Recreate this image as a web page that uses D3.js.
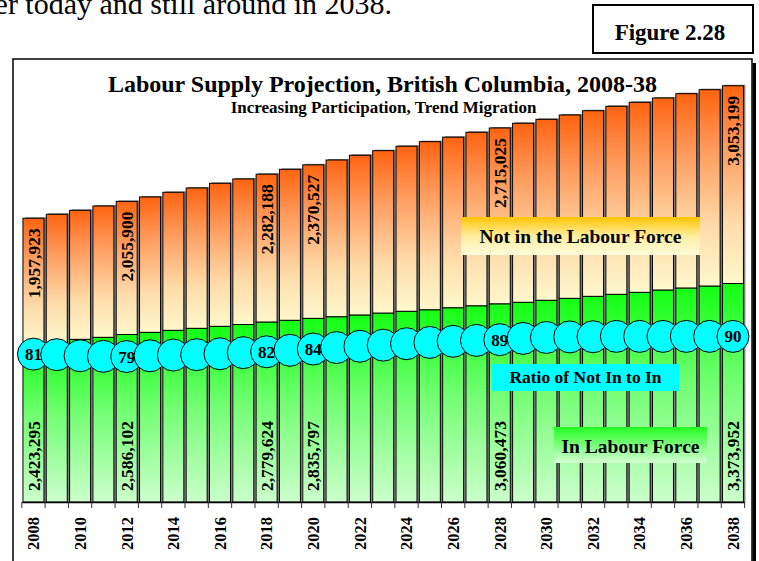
<!DOCTYPE html>
<html>
<head>
<meta charset="utf-8">
<script src="https://cdn.jsdelivr.net/npm/d3@7"></script>
<style>
  body { margin: 0; background: #fff; }
  svg { display: block; }
</style>
</head>
<body>
<script>
// years on the x axis
var years = [2008, 2009, 2010, 2011, 2012, 2013, 2014, 2015, 2016, 2017,
             2018, 2019, 2020, 2021, 2022, 2023, 2024, 2025, 2026, 2027,
             2028, 2029, 2030, 2031, 2032, 2033, 2034, 2035, 2036, 2037, 2038];

// persons in the labour force (green part)
var inLabourForce = [2423295, 2462000, 2512000, 2543000, 2586102, 2620000, 2651000, 2682000, 2713000, 2741000,
                     2779624, 2806000, 2835797, 2861000, 2888000, 2918000, 2945000, 2969000, 3000000, 3030000,
                     3060473, 3084000, 3115000, 3145000, 3176000, 3207000, 3238000, 3274000, 3305000, 3335000, 3373952];

// persons not in the labour force (orange part)
var notInLabourForce = [1957923, 1981000, 1992000, 2028000, 2055900, 2090000, 2131000, 2167000, 2208000, 2247000,
                        2282188, 2331000, 2370527, 2420000, 2466000, 2507000, 2548000, 2595000, 2633000, 2679000,
                        2715025, 2764000, 2794000, 2831000, 2866000, 2903000, 2934000, 2964000, 3000000, 3032000, 3053199];

// ratio of not in to in (x100), the cyan circles
var ratioNotInToIn = [80.80, 80.5, 79.9, 79.6, 79.48, 79.9, 80.3, 80.5, 81.0, 81.6,
                      82.10, 82.9, 83.59, 84.4, 85.1, 85.7, 86.5, 87.2, 87.8, 88.3,
                      88.71, 89.4, 89.9, 90.2, 90.3, 90.5, 90.5, 90.5, 90.5, 90.5, 90.49];

// years that carry data labels
var labelledYears = [2008, 2012, 2018, 2020, 2028, 2038];

// tick labels shown under the axis
var tickYears = [2008, 2010, 2012, 2014, 2016, 2018, 2020, 2022, 2024, 2026,
                 2028, 2030, 2032, 2034, 2036, 2038];

var rows = years.map(function(yr, i) {
  return {year: yr, inLF: inLabourForce[i], notIn: notInLabourForce[i],
          total: inLabourForce[i] + notInLabourForce[i], ratio: ratioNotInToIn[i]};
});

var width = 759, height = 561;
var svg = d3.select("body").append("svg")
    .attr("width", width)
    .attr("height", height)
    .style("font-family", "'Liberation Serif', 'Times New Roman', serif");

var defs = svg.append("defs");
function grad(id, stops) {
  var g = defs.append("linearGradient").attr("id", id)
      .attr("x1", 0).attr("y1", 0).attr("x2", 0).attr("y2", 1);
  stops.forEach(function(s) {
    g.append("stop").attr("offset", s[0]).attr("stop-color", s[1]);
  });
}
grad("orangeGrad", [[0, "#ff6410"], [0.3, "#ff9a5c"], [0.7, "#ffdcaa"], [1, "#fff8cc"]]);
grad("greenGrad", [[0, "#14ff14"], [0.45, "#72ff72"], [1, "#ccffcc"]]);
grad("goldGrad", [[0, "#ffc400"], [0.5, "#ffeea0"], [1, "#fffbdc"]]);
grad("greenLegendGrad", [[0, "#22ff22"], [1, "#d4ffd4"]]);

// text above the figure
svg.append("text")
    .attr("x", 392).attr("y", 13.5)
    .attr("text-anchor", "end")
    .style("font-size", "30px")
    .text("er today and still around in 2038.");

// figure number box
svg.append("rect")
    .attr("x", 593).attr("y", 5).attr("width", 160).attr("height", 48)
    .attr("fill", "#fff").attr("stroke", "#000").attr("stroke-width", 2);
svg.append("text")
    .attr("x", 670).attr("y", 40)
    .attr("text-anchor", "middle")
    .style("font-size", "23px").style("font-weight", "bold")
    .text("Figure 2.28");

// chart frame with shadow
svg.append("rect")
    .attr("x", 752.5).attr("y", 63).attr("width", 3.5).attr("height", 520)
    .attr("fill", "#000");
svg.append("rect")
    .attr("x", 13).attr("y", 59).attr("width", 739).attr("height", 520)
    .attr("fill", "#fff").attr("stroke", "#000").attr("stroke-width", 1.5);

svg.append("text")
    .attr("x", 382.5).attr("y", 91.5)
    .attr("text-anchor", "middle")
    .style("font-size", "24px").style("font-weight", "bold")
    .text("Labour Supply Projection, British Columbia, 2008-38");
svg.append("text")
    .attr("x", 383.5).attr("y", 113)
    .attr("text-anchor", "middle")
    .style("font-size", "17px").style("font-weight", "bold")
    .text("Increasing Participation, Trend Migration");

var x = d3.scaleBand()
    .domain(years)
    .range([21.8, 744.6])
    .paddingInner(0.1)
    .paddingOuter(0.05);

var y = d3.scaleLinear()
    .domain([0, 7000000])
    .range([502, 502 - 7 * 64.76]);

var yRatio = d3.scaleLinear()
    .domain([0, 100])
    .range([502, 319]);

var bw = x.bandwidth();
var fmt = d3.format(",");

// bars
var bars = svg.append("g").selectAll("g")
    .data(rows)
    .enter().append("g");

bars.append("rect")
    .attr("x", function(d) { return x(d.year) + 2; })
    .attr("y", function(d) { return y(d.total) - 1; })
    .attr("width", bw)
    .attr("height", function(d) { return y(0) - y(d.total) + 1; })
    .attr("fill", "#7f7f7f");

bars.append("rect")
    .attr("x", function(d) { return x(d.year); })
    .attr("y", function(d) { return y(d.inLF); })
    .attr("width", bw)
    .attr("height", function(d) { return y(0) - y(d.inLF); })
    .attr("fill", "url(#greenGrad)")
    .attr("stroke", "#000").attr("stroke-width", 1);

bars.append("rect")
    .attr("x", function(d) { return x(d.year); })
    .attr("y", function(d) { return y(d.total); })
    .attr("width", bw)
    .attr("height", function(d) { return y(d.inLF) - y(d.total); })
    .attr("fill", "url(#orangeGrad)")
    .attr("stroke", "#000").attr("stroke-width", 1);

// legend boxes sitting on the bars
svg.append("rect")
    .attr("x", 461).attr("y", 217).attr("width", 239).attr("height", 38)
    .attr("fill", "url(#goldGrad)");
svg.append("text")
    .attr("x", 580.5).attr("y", 242.5)
    .attr("text-anchor", "middle")
    .style("font-size", "19.5px").style("font-weight", "bold")
    .text("Not in the Labour Force");

svg.append("rect")
    .attr("x", 492).attr("y", 364).attr("width", 187).attr("height", 27)
    .attr("fill", "#00ffff");
svg.append("text")
    .attr("x", 585.5).attr("y", 382.5)
    .attr("text-anchor", "middle")
    .style("font-size", "17.5px").style("font-weight", "bold")
    .text("Ratio of Not In to In");

svg.append("rect")
    .attr("x", 554).attr("y", 427).attr("width", 153).attr("height", 36)
    .attr("fill", "url(#greenLegendGrad)");
svg.append("text")
    .attr("x", 630.5).attr("y", 453)
    .attr("text-anchor", "middle")
    .style("font-size", "19.5px").style("font-weight", "bold")
    .text("In Labour Force");

// value labels inside bars
var labelled = rows.filter(function(d) { return labelledYears.indexOf(d.year) >= 0; });

svg.append("g").selectAll("text")
    .data(labelled)
    .enter().append("text")
    .attr("transform", function(d) {
      return "translate(" + (x(d.year) + bw / 2) + "," + (y(d.total) + 10) + ") rotate(-90)";
    })
    .attr("text-anchor", "end")
    .attr("dy", "0.35em")
    .style("font-size", "17.5px").style("font-weight", "bold")
    .text(function(d) { return fmt(d.notIn); });

svg.append("g").selectAll("text")
    .data(labelled)
    .enter().append("text")
    .attr("transform", function(d) {
      return "translate(" + (x(d.year) + bw / 2) + "," + (y(0) - 11) + ") rotate(-90)";
    })
    .attr("text-anchor", "start")
    .attr("dy", "0.35em")
    .style("font-size", "17.5px").style("font-weight", "bold")
    .text(function(d) { return fmt(d.inLF); });

// ratio circles, each one drawn over the previous
var dots = svg.append("g").selectAll("g")
    .data(rows)
    .enter().append("g");

dots.append("circle")
    .attr("cx", function(d) { return x(d.year) + bw / 2; })
    .attr("cy", function(d) { return yRatio(d.ratio); })
    .attr("r", 16)
    .attr("fill", "#00ffff")
    .attr("stroke", "#000").attr("stroke-width", 1);

dots.filter(function(d) { return labelledYears.indexOf(d.year) >= 0; })
    .append("text")
    .attr("x", function(d) { return x(d.year) + bw / 2; })
    .attr("y", function(d) { return yRatio(d.ratio); })
    .attr("dy", "0.35em")
    .attr("text-anchor", "middle")
    .style("font-size", "17px").style("font-weight", "bold")
    .text(function(d) { return d3.format(".0f")(d.ratio); });

// x axis: labels every second year, ticks between the bars
var axis = svg.append("g")
    .attr("transform", "translate(0," + y(0) + ")")
    .call(d3.axisBottom(x).tickValues(tickYears).tickSize(0).tickSizeOuter(0));

axis.select(".domain").attr("stroke", "#000").attr("stroke-width", 1.5);
axis.selectAll("text")
    .attr("transform", "rotate(-90)")
    .attr("x", -15).attr("y", 0)
    .attr("dy", "0.35em")
    .attr("text-anchor", "end")
    .attr("fill", "#000")
    .style("font-family", "'Liberation Serif', 'Times New Roman', serif")
    .style("font-size", "16.5px").style("font-weight", "bold");

var step = x.step();
var edges = years.map(function(yr) { return x(yr) - step * 0.05; })
    .concat([x(years[years.length - 1]) + bw + step * 0.05]);
axis.selectAll(".edge")
    .data(edges)
    .enter().append("line")
    .attr("class", "edge")
    .attr("x1", function(d) { return d; }).attr("x2", function(d) { return d; })
    .attr("y1", 0).attr("y2", 6)
    .attr("stroke", "#333").attr("stroke-width", 1);
</script>
</body>
</html>
